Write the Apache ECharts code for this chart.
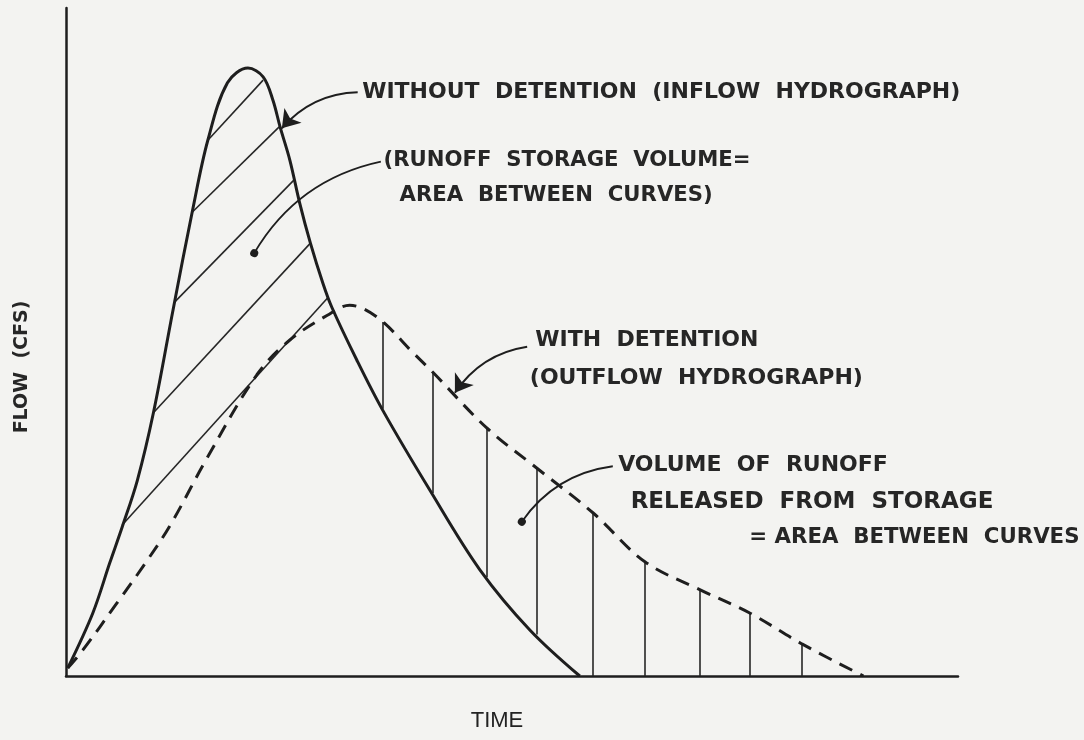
<!DOCTYPE html>
<html>
<head>
<meta charset="utf-8">
<title>Detention hydrographs</title>
<script src="https://cdn.jsdelivr.net/npm/echarts@6/dist/echarts.min.js"></script>
<style>
  html, body { margin: 0; padding: 0; background: #f3f3f1; }
  #chart { width: 1084px; height: 740px; }
</style>
</head>
<body>
<div id="chart"></div>
<script>
// Inflow hydrograph (without detention): [time, flow]
const inflow = [
  [0.02, 1.2], [0.30, 9.4], [0.49, 16.9], [0.63, 22.3], [0.80, 29.3], [0.98, 39.4],
  [1.20, 54.8], [1.42, 69.8], [1.59, 80.2], [1.81, 88.8],
  [2.04, 91.0], [2.21, 89.7], [2.32, 86.2], [2.40, 82.2], [2.51, 77.2],
  [2.62, 70.8], [2.74, 64.8], [2.88, 58.8], [2.98, 55.2], [3.26, 47.3], [3.55, 39.8],
  [4.08, 27.8], [4.64, 15.9], [5.20, 6.9], [5.76, 0]
];

// Outflow hydrograph (with detention): [time, flow]
const outflow = [
  [0.02, 1.2], [0.19, 3.9], [0.57, 10.9], [0.89, 16.9], [1.17, 22.6], [1.58, 32.6],
  [2.14, 45.1], [2.51, 50.3], [2.93, 54.0], [3.18, 55.5], [3.49, 53.7], [3.89, 48.4],
  [4.11, 45.5], [4.72, 37.1], [5.28, 31.1], [5.91, 24.4], [6.49, 17.1], [7.11, 12.9],
  [7.67, 9.4], [8.25, 4.8], [8.94, 0]
];

// Storage hatching: diagonal strokes from the rising limb to the falling limb
const storageStart = [[1.59, 80.2], [1.42, 69.5], [1.22, 56.0], [0.98, 39.4], [0.63, 22.6]];
const storageEnd   = [[2.21, 89.2], [2.39, 82.2], [2.56, 74.3], [2.74, 64.8], [2.94, 56.7]];

// Release hatching: vertical strokes between the two hydrographs
const releaseTime = [3.55, 4.11, 4.72, 5.28, 5.91, 6.49, 7.11, 7.67, 8.25];
const releaseLow  = [40.0, 27.4, 14.8, 6.2, 0, 0, 0, 0, 0];
const releaseHigh = [53.0, 45.5, 37.1, 31.1, 24.4, 17.1, 12.9, 9.4, 4.8];

// Callout text lines and their anchors [time, flow]
const calloutText = [
  'WITHOUT  DETENTION  (INFLOW  HYDROGRAPH)',
  '(RUNOFF  STORAGE  VOLUME=',
  'AREA  BETWEEN  CURVES)',
  'WITH  DETENTION',
  '(OUTFLOW  HYDROGRAPH)',
  'VOLUME  OF  RUNOFF',
  'RELEASED  FROM  STORAGE',
  '= AREA  BETWEEN  CURVES'
];
const calloutAnchor = [
  [3.32, 87.4], [3.56, 77.2], [3.74, 72.0], [5.26, 50.3],
  [5.20, 44.6], [6.19, 31.6], [6.33, 26.0], [7.66, 20.8]
];

// Leader lines: arrows point at a curve, dots mark an area
const arrowFrom = [[3.27, 87.4], [5.17, 49.3]];
const arrowTo   = [[2.42, 82.0], [4.36, 42.4]];
const dotFrom   = [[3.53, 77.0], [6.13, 31.4]];
const dotTo     = [[2.11, 63.3], [5.11, 23.1]];
const leaderBend = -0.22;

// Lettering size for each callout line
const calloutFontSize = [22, 21.2, 21.2, 22, 22, 22, 23, 21.3];

const ink = '#1e1e1e';
const labelFont = {
  fontFamily: 'DejaVu Sans',
  fontWeight: 'bold',
  fontSize: 22,
  color: '#262626',
  opacity: 1
};

const chart = echarts.init(document.getElementById('chart'), null, { renderer: 'canvas' });

chart.setOption({
  backgroundColor: '#f3f3f1',
  animation: false,
  grid: { left: 66, right: 126, top: 8, bottom: 64 },
  xAxis: {
    type: 'value',
    min: 0,
    max: 10,
    name: 'TIME',
    nameLocation: 'middle',
    nameGap: 34,
    nameTextStyle: {
      fontFamily: 'Liberation Sans',
      fontSize: 22,
      color: '#222',
      padding: [0, 30, 0, 0]
    },
    axisLine: { show: true, lineStyle: { color: ink, width: 2.5 } },
    axisTick: { show: false },
    axisLabel: { show: false },
    splitLine: { show: false }
  },
  yAxis: {
    type: 'value',
    min: 0,
    max: 100,
    name: 'FLOW  (CFS)',
    nameLocation: 'middle',
    nameGap: 34,
    nameTextStyle: {
      fontFamily: 'DejaVu Sans',
      fontWeight: 'bold',
      fontSize: 19,
      color: '#262626',
      padding: [0, 50, 0, 0]
    },
    axisLine: { show: true, lineStyle: { color: ink, width: 2.5 } },
    axisTick: { show: false },
    axisLabel: { show: false },
    splitLine: { show: false }
  },
  series: [
    {
      name: 'Inflow hydrograph',
      type: 'line',
      data: inflow,
      smooth: 0.35,
      symbol: 'none',
      lineStyle: { color: ink, width: 3 },
      z: 5
    },
    {
      name: 'Outflow hydrograph',
      type: 'line',
      data: outflow,
      smooth: 0.35,
      symbol: 'none',
      lineStyle: { color: ink, width: 3, type: [14, 9] },
      z: 5
    },
    {
      name: 'Storage hatch',
      type: 'lines',
      coordinateSystem: 'cartesian2d',
      symbol: 'none',
      lineStyle: { color: '#262626', width: 1.6, opacity: 1 },
      data: storageStart.map((s, i) => ({ coords: [s, storageEnd[i]] }))
    },
    {
      name: 'Release hatch',
      type: 'lines',
      coordinateSystem: 'cartesian2d',
      symbol: 'none',
      lineStyle: { color: '#262626', width: 1.6, opacity: 1 },
      data: releaseTime.map((t, i) => ({ coords: [[t, releaseLow[i]], [t, releaseHigh[i]]] }))
    },
    {
      name: 'Arrow leaders',
      type: 'lines',
      coordinateSystem: 'cartesian2d',
      symbol: ['none', 'arrow'],
      symbolSize: [0, 17],
      lineStyle: { color: ink, width: 2, curveness: leaderBend, opacity: 1 },
      itemStyle: { color: ink },
      data: arrowFrom.map((p, i) => ({ coords: [p, arrowTo[i]] })),
      z: 6
    },
    {
      name: 'Dot leaders',
      type: 'lines',
      coordinateSystem: 'cartesian2d',
      symbol: ['none', 'circle'],
      symbolSize: [0, 8],
      lineStyle: { color: ink, width: 1.8, curveness: leaderBend, opacity: 1 },
      itemStyle: { color: ink },
      data: dotFrom.map((p, i) => ({ coords: [p, dotTo[i]] })),
      z: 6
    },
    {
      name: 'Callouts',
      type: 'scatter',
      symbolSize: 0,
      clip: false,
      silent: true,
      itemStyle: { opacity: 1 },
      data: calloutText.map((t, i) => ({
        name: t,
        value: calloutAnchor[i],
        label: { fontSize: calloutFontSize[i] }
      })),
      label: Object.assign({
        show: true,
        position: 'right',
        distance: 0,
        formatter: '{b}'
      }, labelFont),
      z: 7
    }
  ]
});
</script>
</body>
</html>
